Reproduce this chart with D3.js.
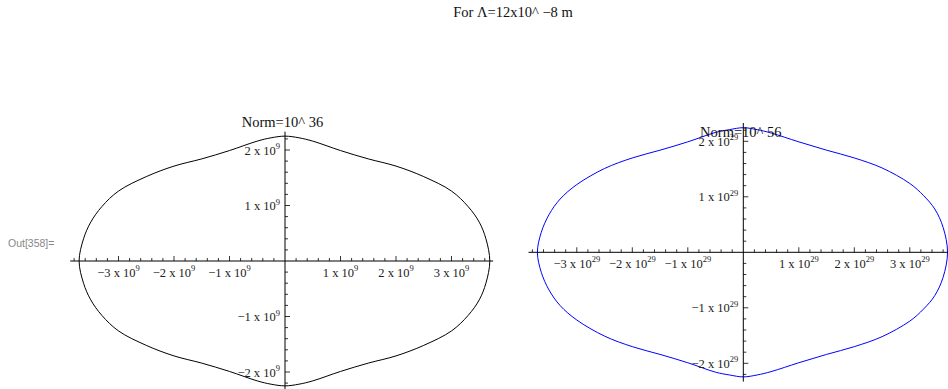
<!DOCTYPE html>
<html>
<head>
<meta charset="utf-8">
<script src="https://cdn.jsdelivr.net/npm/d3@7"></script>
<style>
  html, body { margin: 0; padding: 0; background: #fff; }
  svg { display: block; }
</style>
</head>
<body>
<svg id="chart" width="948" height="389"></svg>
<script>
// Orbit contour traced for each normalisation (x, y in units of 10^exponent)
const curveNorm36 = [
  [3.69, 0], [3.62, 0.40], [3.50, 0.70], [3.30, 0.98], [3.00, 1.26], [2.50, 1.52],
  [2.00, 1.71], [1.50, 1.84], [1.00, 1.99], [0.50, 2.16], [0.25, 2.22], [0, 2.25],
  [-0.25, 2.22], [-0.50, 2.16], [-1.00, 1.99], [-1.50, 1.84], [-2.00, 1.71], [-2.50, 1.52],
  [-3.00, 1.26], [-3.30, 0.98], [-3.50, 0.70], [-3.63, 0.40], [-3.71, 0],
  [-3.63, -0.40], [-3.50, -0.70], [-3.30, -0.98], [-3.00, -1.26], [-2.50, -1.52],
  [-2.00, -1.71], [-1.50, -1.84], [-1.00, -1.99], [-0.50, -2.16], [-0.25, -2.22], [0, -2.25],
  [0.25, -2.22], [0.50, -2.16], [1.00, -1.99], [1.50, -1.84], [2.00, -1.71], [2.50, -1.52],
  [3.00, -1.26], [3.30, -0.98], [3.50, -0.70], [3.62, -0.40]
];
const curveNorm56 = [
  [3.68, 0], [3.60, 0.45], [3.45, 0.78], [3.25, 1.02], [3.00, 1.24], [2.50, 1.52],
  [2.00, 1.70], [1.50, 1.84], [1.00, 1.99], [0.50, 2.15], [0.25, 2.21], [0, 2.245],
  [-0.25, 2.21], [-0.50, 2.16], [-1.00, 1.99], [-1.50, 1.84], [-2.00, 1.70], [-2.50, 1.51],
  [-3.00, 1.22], [-3.30, 0.96], [-3.50, 0.68], [-3.64, 0.36], [-3.71, 0],
  [-3.64, -0.36], [-3.50, -0.68], [-3.30, -0.96], [-3.00, -1.22], [-2.50, -1.51],
  [-2.00, -1.70], [-1.50, -1.84], [-1.00, -1.99], [-0.50, -2.16], [-0.25, -2.21], [0, -2.245],
  [0.25, -2.21], [0.50, -2.15], [1.00, -1.99], [1.50, -1.84], [2.00, -1.70], [2.50, -1.52],
  [3.00, -1.24], [3.25, -1.02], [3.45, -0.78], [3.60, -0.45]
];

const xMajorTicks = [-3, -2, -1, 1, 2, 3];
const yMajorTicks = [-2, -1, 1, 2];
const panelTitles = ["Norm=10^ 36", "Norm=10^ 56"];
const tickExponents = ["9", "29"];
const mainTitle = "For \u039b=12x10^ \u22128 m";
const cellLabel = "Out[358]=";

const svg = d3.select("#chart");
const serif = "'Liberation Serif', 'Times New Roman', serif";

svg.append("text")
  .attr("x", 513).attr("y", 17)
  .attr("text-anchor", "middle")
  .attr("font-family", serif).attr("font-size", 14.5)
  .attr("fill", "#111")
  .attr("xml:space", "preserve")
  .text(mainTitle);

svg.append("text")
  .attr("x", 8).attr("y", 247)
  .attr("font-family", "'Liberation Sans', Arial, sans-serif").attr("font-size", 10.5)
  .attr("fill", "#888")
  .text(cellLabel);

const unit = 55.5;
const panels = [
  { cx: 285, cy: 261, curve: curveNorm36, color: "#000", title: panelTitles[0], exp: tickExponents[0], titleY: 127 },
  { cx: 743.3, cy: 252.3, curve: curveNorm56, color: "#0000ff", title: panelTitles[1], exp: tickExponents[1], titleY: 136.5 }
];

const xRange = [-3.87, 3.75];
const yRange = [-2.33, 2.33];

panels.forEach(p => {
  const x = d3.scaleLinear().domain([0, 1]).range([p.cx, p.cx + unit]);
  const y = d3.scaleLinear().domain([0, 1]).range([p.cy, p.cy - unit]);
  const g = svg.append("g");

  // closed contour
  g.append("path")
    .datum(p.curve)
    .attr("d", d3.line().x(d => x(d[0])).y(d => y(d[1])).curve(d3.curveCatmullRomClosed.alpha(0.5)))
    .attr("fill", "none")
    .attr("stroke", p.color)
    .attr("stroke-width", 1);

  // axis lines through the origin
  g.append("line")
    .attr("x1", x(xRange[0])).attr("x2", x(xRange[1]))
    .attr("y1", y(0)).attr("y2", y(0))
    .attr("stroke", "#000").attr("stroke-width", 1);
  g.append("line")
    .attr("x1", x(0)).attr("x2", x(0))
    .attr("y1", y(yRange[1])).attr("y2", y(yRange[0]))
    .attr("stroke", "#000").attr("stroke-width", 1);

  // major and minor ticks, drawn on the positive side of each axis
  const isMajor = d => Math.abs(d - Math.round(d)) < 1e-9;
  const xMinor = d3.range(Math.ceil(xRange[0] * 5), Math.floor(xRange[1] * 5) + 1).map(k => k / 5).filter(v => v !== 0);
  g.selectAll(".xt").data(xMinor).enter().append("line")
    .attr("x1", d => x(d)).attr("x2", d => x(d))
    .attr("y1", y(0)).attr("y2", d => y(0) - (isMajor(d) ? 5 : 3))
    .attr("stroke", "#000").attr("stroke-width", 0.8);
  const yMinor = d3.range(Math.ceil(yRange[0] * 5), Math.floor(yRange[1] * 5) + 1).map(k => k / 5).filter(v => v !== 0);
  g.selectAll(".yt").data(yMinor).enter().append("line")
    .attr("y1", d => y(d)).attr("y2", d => y(d))
    .attr("x1", x(0)).attr("x2", d => x(0) + (isMajor(d) ? 5 : 3))
    .attr("stroke", "#000").attr("stroke-width", 0.8);

  const fmt = v => (v < 0 ? "\u2212" : "") + Math.abs(v) + " x 10";

  // x tick labels
  xMajorTicks.forEach(v => {
    const t = g.append("text")
      .attr("x", x(v)).attr("y", y(0) + 15.5)
      .attr("text-anchor", "middle")
      .attr("font-family", serif).attr("font-size", 12.5)
      .attr("fill", "#222");
    t.append("tspan").text(fmt(v));
    t.append("tspan").attr("font-size", 8.5).attr("dy", -5.5).text(p.exp);
  });
  // y tick labels
  yMajorTicks.forEach(v => {
    const t = g.append("text")
      .attr("x", x(0) - 5).attr("y", y(v) + 4.5)
      .attr("text-anchor", "end")
      .attr("font-family", serif).attr("font-size", 12.5)
      .attr("fill", "#222");
    t.append("tspan").text(fmt(v));
    t.append("tspan").attr("font-size", 8.5).attr("dy", -5.5).text(p.exp);
  });

  // panel title
  g.append("text")
    .attr("x", x(0) - 2.5).attr("y", p.titleY)
    .attr("text-anchor", "middle")
    .attr("font-family", serif).attr("font-size", 14.5)
    .attr("fill", "#111")
    .attr("xml:space", "preserve")
    .text(p.title);
});
</script>
</body>
</html>
